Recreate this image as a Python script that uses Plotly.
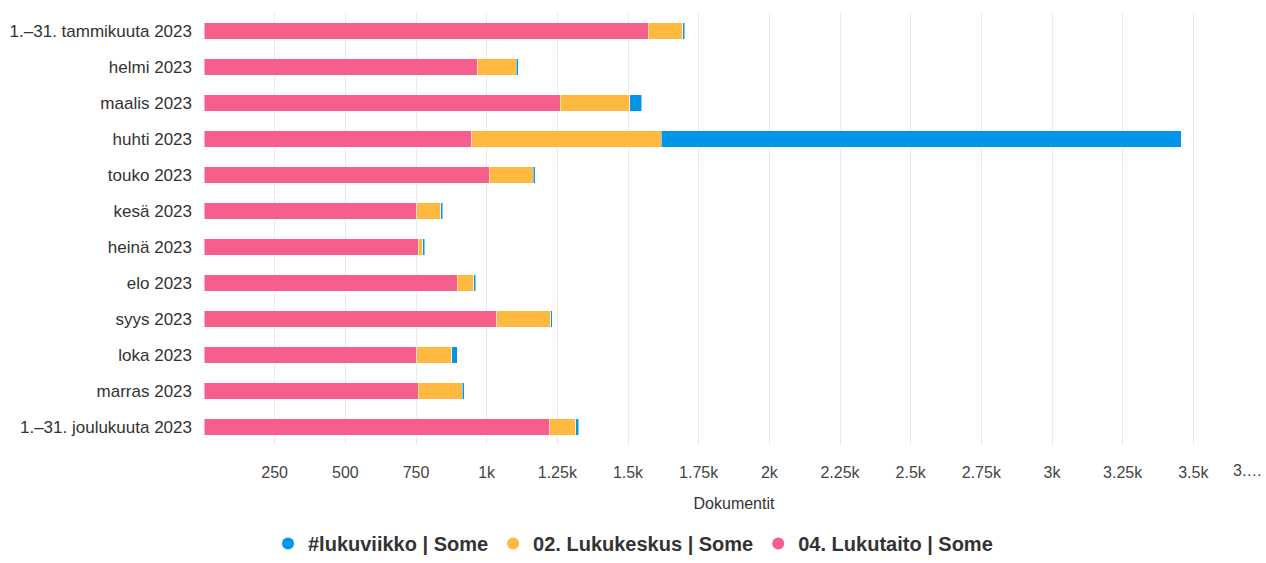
"""
Monthly document counts per source, stacked horizontal bars
"""

import plotly.graph_objects as go

months = [
    "1.–31. tammikuuta 2023", "helmi 2023", "maalis 2023", "huhti 2023",
    "touko 2023", "kesä 2023", "heinä 2023", "elo 2023", "syys 2023",
    "loka 2023", "marras 2023", "1.–31. joulukuuta 2023",
]

# values
lukutaito = [1571, 968, 1260, 948, 1009, 753, 758, 896, 1035, 753, 758, 1224]
lukukeskus = [122, 136, 246, 669, 156, 84, 16, 58, 191, 124, 156, 92]
lukuviikko = [8, 7, 43, 1840, 7, 7, 7, 8, 6, 19, 7, 9]

tick_vals = [0, 250, 500, 750, 1000, 1250, 1500, 1750, 2000, 2250, 2500, 2750, 3000, 3250, 3500, 3750]
tick_text = ["", "250", "500", "750", "1k", "1.25k", "1.5k", "1.75k", "2k", "2.25k",
             "2.5k", "2.75k", "3k", "3.25k", "3.5k", ""]

series = [
    ("04. Lukutaito | Some", lukutaito, "#f65e8b"),
    ("02. Lukukeskus | Some", lukukeskus, "#ffb940"),
    ("#lukuviikko | Some", lukuviikko, "#0096e9"),
]

FONT = "Liberation Sans, Arial, sans-serif"

fig = go.Figure()

for name, vals, color in series:
    fig.add_trace(go.Bar(
        y=months,
        x=vals,
        name=name,
        orientation="h",
        marker=dict(color=color, line=dict(color="white", width=0.5)),
        showlegend=False,
    ))

# circle markers for the legend
for name, vals, color in series:
    fig.add_trace(go.Scatter(
        x=[None],
        y=[None],
        mode="markers",
        name=name,
        marker=dict(color=color, size=12, symbol="circle"),
    ))

fig.update_layout(
    barmode="stack",
    bargap=0.53,
    width=1266,
    height=563,
    margin=dict(l=204, r=2, t=13, b=118, autoexpand=False),
    plot_bgcolor="white",
    paper_bgcolor="white",
    font=dict(family=FONT, size=16, color="#333333"),
    xaxis=dict(
        range=[0, 3750],
        tickvals=tick_vals,
        ticktext=tick_text,
        showgrid=True,
        gridcolor="#ebebeb",
        gridwidth=1,
        zeroline=False,
        ticks="",
        ticklabelstandoff=16,
        tickfont=dict(size=16, color="#444444"),
        title=dict(text="Dokumentit", font=dict(size=16, color="#333333"), standoff=17),
    ),
    yaxis=dict(
        autorange="reversed",
        showgrid=False,
        ticks="",
        ticklabelstandoff=11,
        tickfont=dict(size=17, color="#333333"),
    ),
    legend=dict(
        orientation="h",
        x=0.5,
        xref="container",
        xanchor="center",
        y=-5 / 563,
        yref="container",
        yanchor="bottom",
        traceorder="reversed",
        font=dict(size=20, color="#333333", family=FONT, weight="bold"),
        itemsizing="constant",
    ),
    annotations=[
        dict(
            x=3750, y=0, xref="x", yref="paper",
            text="3.…", showarrow=False,
            xanchor="right", yanchor="top", yshift=-15,
            font=dict(size=16, color="#444444"),
        )
    ],
)

fig.write_html(
    "out.html",
    config={"displayModeBar": False},
    post_script="document.body.style.margin='0';",
)
